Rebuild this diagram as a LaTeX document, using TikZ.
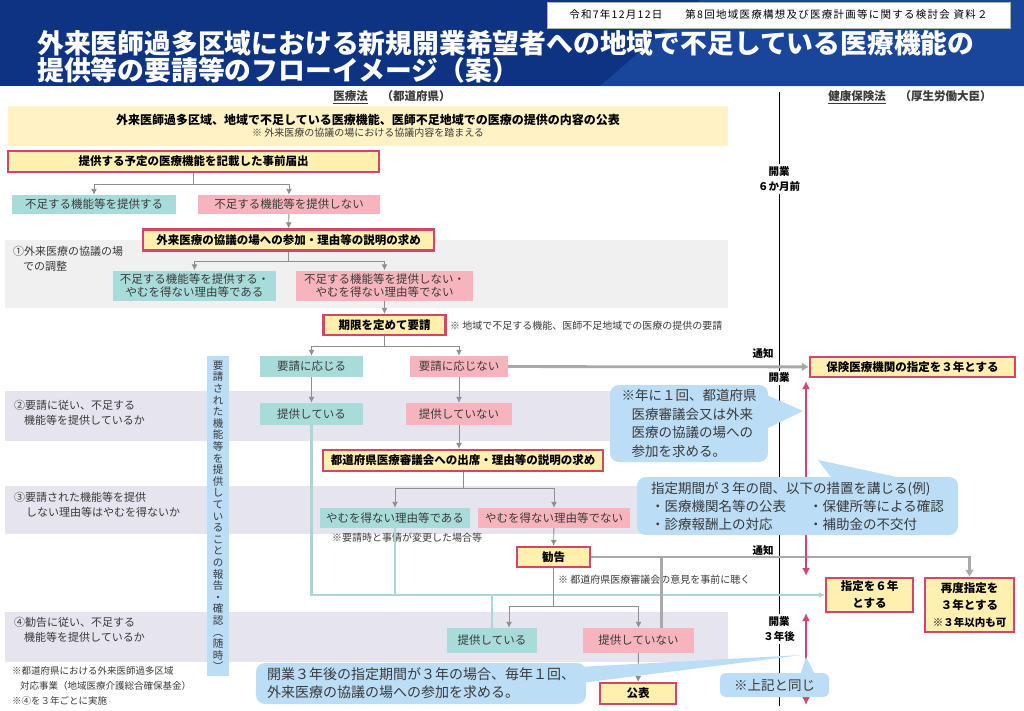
\documentclass[tikz,border=0pt]{standalone}
\usepackage{fontspec}
\setmainfont{Noto Sans CJK JP}
\usetikzlibrary{arrows.meta, calc, positioning}
\tikzset{>={Latex[length=6pt,width=6pt]}}

\definecolor{hdrblue}{HTML}{0E3383}
\definecolor{hdrlight}{HTML}{1F4DA6}
\definecolor{tealc}{HTML}{A8DCDA}
\definecolor{pinkc}{HTML}{F8B4BC}
\definecolor{yelc}{HTML}{FFF0B0}
\definecolor{banc}{HTML}{FFF3C6}
\definecolor{redc}{HTML}{D4456C}
\definecolor{bubc}{HTML}{BBDDF6}
\definecolor{bandA}{HTML}{F0F0F0}
\definecolor{bandB}{HTML}{E6E4EE}
\definecolor{linec}{HTML}{8E8E8E}
\definecolor{thickc}{HTML}{A9A9A9}
\definecolor{tealline}{HTML}{A8D8D4}
\definecolor{txtc}{HTML}{3A3A3A}

\tikzset{
  box/.style={minimum height=20pt, inner sep=0pt, text=txtc, align=center, font=\fontsize{11.5}{13.5}\selectfont},
  tealbox/.style={box, fill=tealc},
  pinkbox/.style={box, fill=pinkc},
  redbox/.style={box, fill=yelc, draw=redc, line width=2.2pt, text=black, font=\bfseries\fontsize{11.5}{17}\selectfont},
  bubble/.style={fill=bubc, rounded corners=9pt, text=txtc, align=left, inner sep=0pt, font=\fontsize{13.5}{18.5}\selectfont},
  conn/.style={draw=linec, line width=0.9pt},
  notice/.style={draw=thickc, line width=2.8pt},
  tealconn/.style={draw=tealline, line width=2.8pt},
  redarrow/.style={draw=redc, line width=2.2pt, {Latex[length=8pt,width=8pt]}-{Latex[length=8pt,width=8pt]}},
  note/.style={text=txtc, inner sep=0pt, font=\fontsize{10}{12}\selectfont},
  leftlab/.style={text=txtc, inner sep=0pt, align=left, anchor=west, font=\fontsize{11}{15}\selectfont},
  timelab/.style={inner sep=2pt, align=center, font=\bfseries\fontsize{10.5}{15}\selectfont}
}

\begin{document}
\begin{tikzpicture}[x=1pt, y=-1pt]
\useasboundingbox (0,0) rectangle (1024,710);

% header
\fill[hdrblue] (0,0) rectangle (1024,86);
\fill[hdrlight, opacity=0.7] (600,86) -- (700,0) -- (1024,0) -- (1024,86) -- cycle;
\node[anchor=west, text=white, inner sep=0pt, font=\bfseries\fontsize{26.8}{30}\selectfont] (title1) at (37,43) {外来医師過多区域における新規開業希望者への地域で不足している医療機能の};
\node[anchor=west, text=white, inner sep=0pt, font=\bfseries\fontsize{26.8}{30}\selectfont] (title2) at (37,70) {提供等の要請等のフローイメージ（案）};
\node[fill=white, draw=gray!60, minimum width=463pt, minimum height=26pt, inner sep=0pt, font=\fontsize{10.5}{12}\selectfont\addfontfeature{LetterSpace=12}] (date) at (778.5,15) {令和7年12月12日\hspace{2.2em}第8回地域医療構想及び医療計画等に関する検討会 資料２};

% bands
\fill[bandA] (5,240) rectangle (728,308);
\fill[bandB] (5,391) rectangle (728,441);
\fill[bandB] (5,486) rectangle (728,534);
\fill[bandB] (5,612) rectangle (728,662);

\node[font=\bfseries\fontsize{11.5}{13}\selectfont, text=txtc] (iryo) at (392,97) {\underline{医療法}\hspace{1.2em}（都道府県）};
\node[font=\bfseries\fontsize{11.5}{13}\selectfont, text=txtc] (kenpo) at (910,97) {\underline{健康保険法}\hspace{1.2em}（厚生労働大臣）};

% time line
\coordinate (ltop) at (779,92);
\coordinate (lbot) at (779,706);
\node[timelab] (open6) at (779,179) {開業\\６か月前};
\node[timelab] (open0) at (779,378) {開業};
\node[timelab] (open3) at (779,629) {開業\\３年後};
\draw[line width=0.8pt] (ltop) -- (open6) -- (open0) -- (open3) -- (lbot);
\node[timelab] (tsuchi1) at (763,353) {通知};
\node[timelab] (tsuchi2) at (763,550) {通知};

% left labels
\node[leftlab] (q1) at (13,259) {①外来医療の協議の場\\\hspace{10pt}での調整};
\node[leftlab] (q2) at (14,412.5) {②要請に従い、不足する\\\hspace{10pt}機能等を提供しているか};
\node[leftlab] (q3) at (14,505) {③要請された機能等を提供\\\hspace{12pt}しない理由等はやむを得ないか};
\node[leftlab] (q4) at (14,630) {④勧告に従い、不足する\\\hspace{10pt}機能等を提供しているか};
\node[note, anchor=north west, align=left, font=\fontsize{9.5}{15}\selectfont] (fn) at (12,666) {※都道府県における外来医師過多区域\\\hspace{8pt}対応事業（地域医療介護総合確保基金）\\※④を３年ごとに実施};

\node[fill=bubc, minimum width=22pt, minimum height=320pt, inner sep=0pt, align=center, text=txtc, font=\fontsize{10.5}{11.6}\selectfont] (rep) at (218,516) {要\\請\\さ\\れ\\た\\機\\能\\等\\を\\提\\供\\し\\て\\い\\る\\こ\\と\\の\\報\\告\\・\\確\\認\\︵\\随\\時\\︶};

% flow
\node[fill=banc, minimum width=720pt, minimum height=40pt, inner sep=0pt, align=center] (pub) at (368,126) {{\bfseries\fontsize{12}{15}\selectfont 外来医師過多区域、地域で不足している医療機能、医師不足地域での医療の提供の内容の公表}\\{\color{txtc}\fontsize{10}{13}\selectfont ※ 外来医療の協議の場における協議内容を踏まえる}};
\node[redbox, minimum width=371pt, minimum height=21pt] (pre) at (193.5,161.5) {提供する予定の医療機能を記載した事前届出};
\node[tealbox, minimum width=164pt, minimum height=19pt] (prov1) at (94,204.5) {不足する機能等を提供する};
\node[pinkbox, minimum width=182pt, minimum height=19pt] (nprov1) at (289,204.5) {不足する機能等を提供しない};
\node[redbox, minimum width=291pt, minimum height=21pt] (mtg) at (288.5,240) {外来医療の協議の場への参加・理由等の説明の求め};
\node[tealbox, minimum width=163pt, minimum height=30pt] (ok1) at (194.5,285.5) {不足する機能等を提供する・\\やむを得ない理由等である};
\node[pinkbox, minimum width=177pt, minimum height=30pt] (ng1) at (384.5,285.5) {不足する機能等を提供しない・\\やむを得ない理由等でない};
\node[redbox, minimum width=122pt, minimum height=20pt] (req) at (384.5,325) {期限を定めて要請};
\node[note, anchor=west] (reqnote) at (450,326) {※ 地域で不足する機能、医師不足地域での医療の提供の要請};
\node[tealbox, minimum width=103pt, minimum height=21pt] (acc) at (311.5,366.5) {要請に応じる};
\node[pinkbox, minimum width=98pt, minimum height=21pt] (rej) at (459,366.5) {要請に応じない};
\node[redbox, minimum width=205pt, minimum height=20pt] (ins3) at (912.5,367) {保険医療機関の指定を３年とする};
\node[tealbox, minimum width=103pt, minimum height=22pt] (yes2) at (311.5,414) {提供している};
\node[pinkbox, minimum width=106pt, minimum height=22pt] (no2) at (459,414) {提供していない};
\node[redbox, minimum width=280pt, minimum height=21pt] (cncl) at (463,460.5) {都道府県医療審議会への出席・理由等の説明の求め};
\node[tealbox, minimum width=150pt, minimum height=20pt] (ok3) at (395,518) {やむを得ない理由等である};
\node[pinkbox, minimum width=152pt, minimum height=20pt] (ng3) at (554,518) {やむを得ない理由等でない};
\node[note, anchor=west] (chg) at (332,538) {※要請時と事情が変更した場合等};
\node[redbox, minimum width=73pt, minimum height=20pt] (kan) at (553.5,557) {勧告};
\node[note, anchor=west] (opin) at (558,580) {※ 都道府県医療審議会の意見を事前に聴く};
\node[redbox, minimum width=87pt, minimum height=34pt] (six) at (869.5,595) {指定を６年\\とする};
\node[redbox, minimum width=89pt, minimum height=54pt] (again) at (969.5,605) {再度指定を\\３年とする\\{\fontsize{10.5}{17}\selectfont ※３年以内も可}};
\node[tealbox, minimum width=90pt, minimum height=25pt] (yes4) at (492,640.5) {提供している};
\node[pinkbox, minimum width=111pt, minimum height=25pt] (no4) at (638.5,640.5) {提供していない};
\node[redbox, minimum width=76pt, minimum height=21pt] (pub2) at (638,693.5) {公表};

% connectors
\draw[conn] (pre.south) -- ++(0,11) coordinate (j1);
\draw[conn,->] (j1) -| (prov1.north);
\draw[conn,->] (j1) -| (nprov1.north);
\draw[conn,->] (nprov1) -- (mtg);
\draw[conn] (mtg.south) -- ++(0,10) coordinate (j2);
\draw[conn,->] (j2) -| (ok1.north);
\draw[conn,->] (j2) -| (ng1.north);
\draw[conn,->] (ng1) -- (req);
\draw[conn] (req.south) -- ++(0,10) coordinate (j3);
\draw[conn,->] (j3) -| (acc.north);
\draw[conn,->] (j3) -| (rej.north);
\draw[conn,->] (acc) -- (yes2);
\draw[conn,->] (rej) -- (no2);
\draw[conn,->] (no2.south) -- (no2.south |- cncl.north);
\draw[conn] (cncl.south) -- ++(0,16) coordinate (j4);
\draw[conn,->] (j4) -| (ok3.north);
\draw[conn,->] (j4) -| (ng3.north);
\draw[conn,->] (ng3) -- (kan);
\draw[tealconn,->] (yes2.south) |- (six.west);
\draw[tealconn] (ok3.south) -- (ok3.south |- six.west);
\draw[tealconn] (yes4.north) -- (yes4.north |- six.west);
\draw[conn] (kan.south) -- ++(0,38) coordinate (j5);
\draw[conn,->] (j5) -| ([xshift=17pt]yes4.north);
\draw[conn,->] (j5) -| (no4.north);
\draw[conn,->] (no4) -- (pub2);
\draw[notice,-{Latex[length=7pt,width=9pt]}] (rej) -- (ins3);
\draw[notice,-{Latex[length=7pt,width=9pt]}] (kan.east) -| (again.north);
\draw[notice] ([xshift=23pt]no4.north) -- ([xshift=23pt]no4.north |- kan.east);

% period arrows
\coordinate (r1) at (806,381);
\coordinate (r2) at (806,576);
\coordinate (r3) at (806,613);
\coordinate (r4) at (806,705);
\draw[redarrow] (r1) -- (r2);
\draw[redarrow] (r3) -- (r4);

% bubbles
\node[bubble, minimum width=158pt, minimum height=77pt] (b1) at (689,423.5) {※年に１回、都道府県\\\hspace{10pt}医療審議会又は外来\\\hspace{10pt}医療の協議の場への\\\hspace{10pt}参加を求める。};
\coordinate (p1) at (803,411);
\fill[bubc] ([xshift=-2pt,yshift=-10pt]b1.north east) -- (p1) -- ([xshift=-2pt,yshift=-44pt]b1.north east) -- cycle;
\node[bubble, minimum width=321pt, minimum height=58pt, font=\fontsize{13.5}{18}\selectfont] (b2) at (797.5,506) {指定期間が３年の間、以下の措置を講じる(例)\\\makebox[158pt][l]{・医療機関名等の公表}・保健所等による確認\\\makebox[158pt][l]{・診療報酬上の対応}・補助金の不交付};
\coordinate (p2) at (818,460);
\fill[bubc] ([xshift=-126pt,yshift=-2pt]b2.north east) -- (p2) -- ([xshift=-53pt,yshift=-2pt]b2.north east) -- cycle;
\node[bubble, minimum width=330pt, minimum height=41pt, font=\fontsize{14}{18}\selectfont] (b3) at (421,683.5) {開業３年後の指定期間が３年の場合、毎年１回、\\外来医療の協議の場への参加を求める。};
\coordinate (p3) at (802,655);
\fill[bubc] ([xshift=-4pt,yshift=-4pt]b3.north east) -- (p3) -- ([xshift=-4pt,yshift=-20pt]b3.north east) -- cycle;
\node[bubble, minimum width=109pt, minimum height=24pt, rounded corners=6pt] (b4) at (774.5,685) {※上記と同じ};
\coordinate (p4) at (806,657);
\fill[bubc] ([xshift=-29pt,yshift=-2pt]b4.north east) -- (p4) -- ([xshift=-14pt,yshift=-2pt]b4.north east) -- cycle;
\end{tikzpicture}
\end{document}
